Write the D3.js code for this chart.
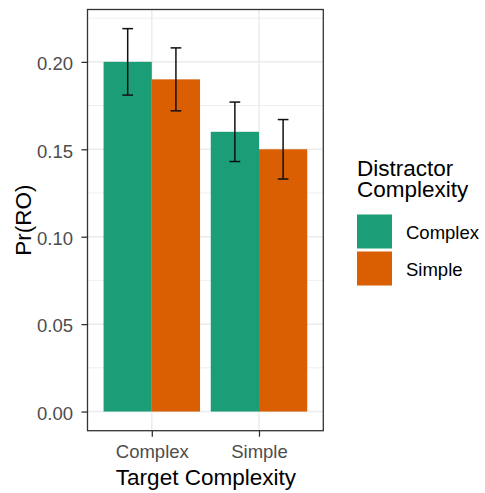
<!DOCTYPE html>
<html>
<head>
<meta charset="utf-8">
<script src="https://cdn.jsdelivr.net/npm/d3@7"></script>
<style>
  body { margin:0; background:#fff; }
  text { font-family: "Liberation Sans", Arial, sans-serif; }
</style>
</head>
<body>
<div id="canvas"></div>
<script>
// data
var targets = ['Complex', 'Simple'];
var distractors = ['Complex', 'Simple'];
var values = [0.200, 0.190, 0.160, 0.150];   // target x distractor
var errLow = [0.181, 0.172, 0.143, 0.133];
var errHigh = [0.219, 0.208, 0.177, 0.167];
var yTicks = [0, 0.05, 0.10, 0.15, 0.20];
var colors = ['#1B9E77', '#D95F02'];

var rows = [];
targets.forEach(function(t, i){
    distractors.forEach(function(d, j){
        var k = i * distractors.length + j;
        rows.push({target:t, distractor:d, value:values[k], lo:errLow[k], hi:errHigh[k]});
    });
});

var W = 485, H = 493;
var p = {l:87.5, r:323.3, t:9.5, b:430.7};

var svg = d3.select('#canvas').append('svg')
    .attr('width', W).attr('height', H);

// ggplot style expansion
var yMin = 0, yMax = d3.max(errHigh);
var pad = (yMax - yMin) * 0.05;
var scaleY = d3.scaleLinear().domain([yMin - pad, yMax + pad]).range([p.b, p.t]);

// discrete x: positions 1..n, expand 0.6
var scaleX = d3.scaleLinear().domain([0.4, targets.length + 0.6]).range([p.l, p.r]);
var barW = 0.9 / distractors.length;

var plot = svg.append('g');

// minor grid
var minor = [];
for (var i = 0; i < yTicks.length - 1; i++) minor.push((yTicks[i] + yTicks[i+1]) / 2);
minor.push(yTicks[yTicks.length-1] + 0.025);
plot.selectAll('.minor').data(minor.filter(function(v){ return scaleY(v) > p.t; }))
    .enter().append('line')
    .attr('x1', p.l).attr('x2', p.r)
    .attr('y1', function(d){ return scaleY(d); }).attr('y2', function(d){ return scaleY(d); })
    .attr('stroke', '#ebebeb').attr('stroke-width', 0.8);

// major grid
plot.selectAll('.majorY').data(yTicks).enter().append('line')
    .attr('x1', p.l).attr('x2', p.r)
    .attr('y1', function(d){ return scaleY(d); }).attr('y2', function(d){ return scaleY(d); })
    .attr('stroke', '#ebebeb').attr('stroke-width', 1.5);
plot.selectAll('.majorX').data(targets).enter().append('line')
    .attr('y1', p.t).attr('y2', p.b)
    .attr('x1', function(d, i){ return scaleX(i + 1); }).attr('x2', function(d, i){ return scaleX(i + 1); })
    .attr('stroke', '#ebebeb').attr('stroke-width', 1.5);

// bars
function xLeft(d){
    var i = targets.indexOf(d.target), j = distractors.indexOf(d.distractor);
    return scaleX(i + 1 - 0.45 + j * barW);
}
plot.selectAll('rect.bar').data(rows).enter().append('rect')
    .attr('class', 'bar')
    .attr('x', xLeft)
    .attr('width', scaleX(barW) - scaleX(0))
    .attr('y', function(d){ return scaleY(d.value); })
    .attr('height', function(d){ return scaleY(0) - scaleY(d.value); })
    .attr('fill', function(d){ return colors[distractors.indexOf(d.distractor)]; });

// error bars
var capW = 0.1;
var eb = plot.selectAll('g.err').data(rows).enter().append('g')
    .attr('stroke', '#111').attr('stroke-width', 1.5).attr('fill', 'none');
function xMid(d){
    var i = targets.indexOf(d.target), j = distractors.indexOf(d.distractor);
    return i + 1 - 0.45 + (j + 0.5) * barW;
}
eb.append('line')
    .attr('x1', function(d){ return scaleX(xMid(d)); }).attr('x2', function(d){ return scaleX(xMid(d)); })
    .attr('y1', function(d){ return scaleY(d.lo); }).attr('y2', function(d){ return scaleY(d.hi); });
['lo', 'hi'].forEach(function(k){
    eb.append('line')
        .attr('x1', function(d){ return scaleX(xMid(d) - capW / 2); })
        .attr('x2', function(d){ return scaleX(xMid(d) + capW / 2); })
        .attr('y1', function(d){ return scaleY(d[k]); }).attr('y2', function(d){ return scaleY(d[k]); });
});

// panel border
svg.append('rect')
    .attr('x', p.l).attr('y', p.t).attr('width', p.r - p.l).attr('height', p.b - p.t)
    .attr('fill', 'none').attr('stroke', '#333').attr('stroke-width', 1.3);

// axes
var axisY = d3.axisLeft(scaleY).tickValues(yTicks).tickFormat(d3.format('.2f')).tickSize(6).tickPadding(8.5);
var gy = svg.append('g').attr('transform', 'translate(' + p.l + ',0)').call(axisY);
var axisX = d3.axisBottom(scaleX).tickValues([1, 2]).tickFormat(function(d){ return targets[d - 1]; }).tickSize(6).tickPadding(8);
var gx = svg.append('g').attr('transform', 'translate(0,' + p.b + ')').call(axisX);
[gx, gy].forEach(function(g){
    g.select('.domain').remove();
    g.selectAll('.tick line').attr('stroke', '#333').attr('stroke-width', 1.3);
    g.selectAll('.tick text').attr('fill', '#4d4d4d')
        .style('font-size', '18.5px').style('font-family', '"Liberation Sans", Arial, sans-serif');
});
gy.selectAll('.tick text').attr('dy', '0.42em');

// axis titles
svg.append('text').attr('x', (p.l + p.r) / 2 + 0.5).attr('y', 485)
    .attr('text-anchor', 'middle').style('font-size', '22.5px').text('Target Complexity');
svg.append('text').attr('transform', 'translate(31,' + ((p.t + p.b) / 2 + 0) + ') rotate(-90)')
    .attr('text-anchor', 'middle').style('font-size', '22.5px').text('Pr(RO)');

// legend
var leg = svg.append('g');
var title = leg.append('text').attr('x', 357).attr('y', 176).style('font-size', '22.5px');
title.append('tspan').attr('x', 357).text('Distractor');
title.append('tspan').attr('x', 357).attr('dy', 21).text('Complexity');
var items = leg.selectAll('g.item').data(distractors).enter().append('g')
    .attr('transform', function(d, i){ return 'translate(357,' + (214.5 + i * 37) + ')'; });
items.append('rect').attr('width', 35).attr('height', 34)
    .attr('fill', function(d, i){ return colors[i]; });
items.append('text').attr('x', 49).attr('y', 24).style('font-size', '18.5px').text(function(d){ return d; });
</script>
</body>
</html>
